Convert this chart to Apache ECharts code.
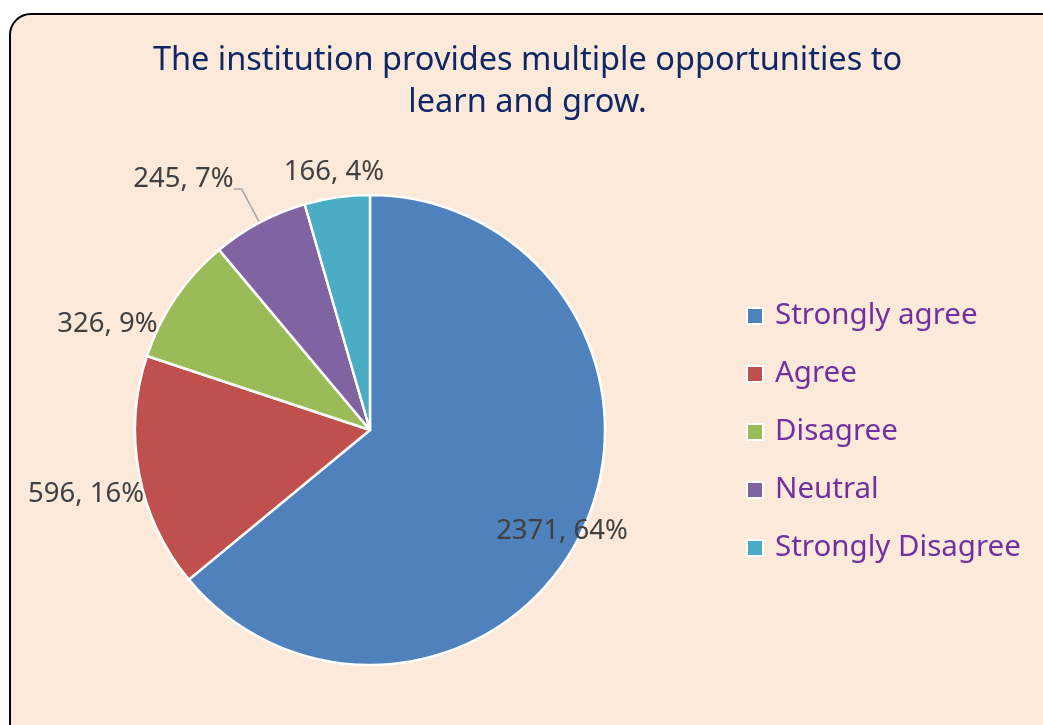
<!DOCTYPE html>
<html>
<head>
	<meta charset="utf-8" />
	<title>Opportunities to learn and grow</title>
	<script src="https://cdn.jsdelivr.net/npm/echarts@6/dist/echarts.min.js"></script>
	<style>
		html, body { margin: 0; padding: 0; background: #ffffff; overflow: hidden; width: 1043px; height: 725px; position: relative; }
		#frame {
			position: absolute; left: 9px; top: 13px; width: 1060px; height: 740px;
			background: #fde9da; border: 2px solid #000; border-radius: 22px;
		}
		/* a bit wider than the window so the centred title sits where Excel put it */
		#main { position: absolute; left: 0; top: 0; width: 1055px; height: 725px; }
	</style>
</head>
<body>
	<div id="frame"></div>
	<div id="main"></div>

	<script type="text/javascript">
		/******************* data ******************/
		var titleLines = ['The institution provides multiple opportunities to', 'learn and grow.'];
		var categories = ['Strongly agree', 'Agree', 'Disagree', 'Neutral', 'Strongly Disagree'];
		var counts = [2371, 596, 326, 245, 166];
		var colors = ['#4f81bd', '#c0504d', '#9bbb59', '#8064a2', '#4bacc6'];

		// label nudges (dx, dy) so they sit where Excel put them
		var nudge = [[83, 50], [10, 21], [-13, 26], [5, -10], [52, -25]];

		var pieData = [];
		for (let i = 0; i < categories.length; ++i) {
			let item = { name: categories[i], value: counts[i] };
			if (categories[i] === 'Neutral') {
				item.labelLine = { show: true, length: 38, length2: 8 };
			}
			if (i === 0) {
				item.label = { position: 'inside' };
			}
			pieData.push(item);
		}

		var dom = document.getElementById('main');
		var myChart = echarts.init(dom, null, { renderer: 'canvas' });

		var font = '"Noto Sans", sans-serif';

		var option = {
			animation: false,
			backgroundColor: 'transparent',
			color: colors,
			title: {
				text: titleLines.join('\n'),
				left: 'center',
				top: 35,
				textStyle: {
					fontFamily: font,
					fontSize: 32.5,
					fontWeight: 'normal',
					lineHeight: 42,
					color: '#102766'
				}
			},
			legend: {
				orient: 'vertical',
				left: 741,
				top: 295,
				icon: 'rect',
				itemWidth: 16,
				itemHeight: 16,
				itemGap: 26,
				data: categories,
				textStyle: {
					fontFamily: font,
					fontSize: 29.5,
					lineHeight: 32,
					color: '#7030a0',
					padding: [0, 0, 0, 7]
				}
			},
			series: [
				{
					type: 'pie',
					center: [370, 430],
					radius: 235,
					startAngle: 90,
					clockwise: true,
					avoidLabelOverlap: false,
					percentPrecision: 0,
					itemStyle: { borderColor: '#ffffff', borderWidth: 2.5 },
					label: {
						show: true,
						position: 'outside',
						formatter: '{c}, {d}%',
						fontFamily: font,
						fontSize: 27.5,
						color: '#404040'
					},
					labelLine: {
						show: false,
						length: 0,
						length2: 0,
						lineStyle: { color: '#a6a6a6', width: 1.5 }
					},
					labelLayout: function (params) {
						var n = nudge[params.dataIndex];
						return { dx: n[0], dy: n[1] };
					},
					emphasis: { disabled: true },
					data: pieData
				}
			]
		};

		myChart.setOption(option);
		window.addEventListener('resize', myChart.resize);
	</script>
</body>
</html>
